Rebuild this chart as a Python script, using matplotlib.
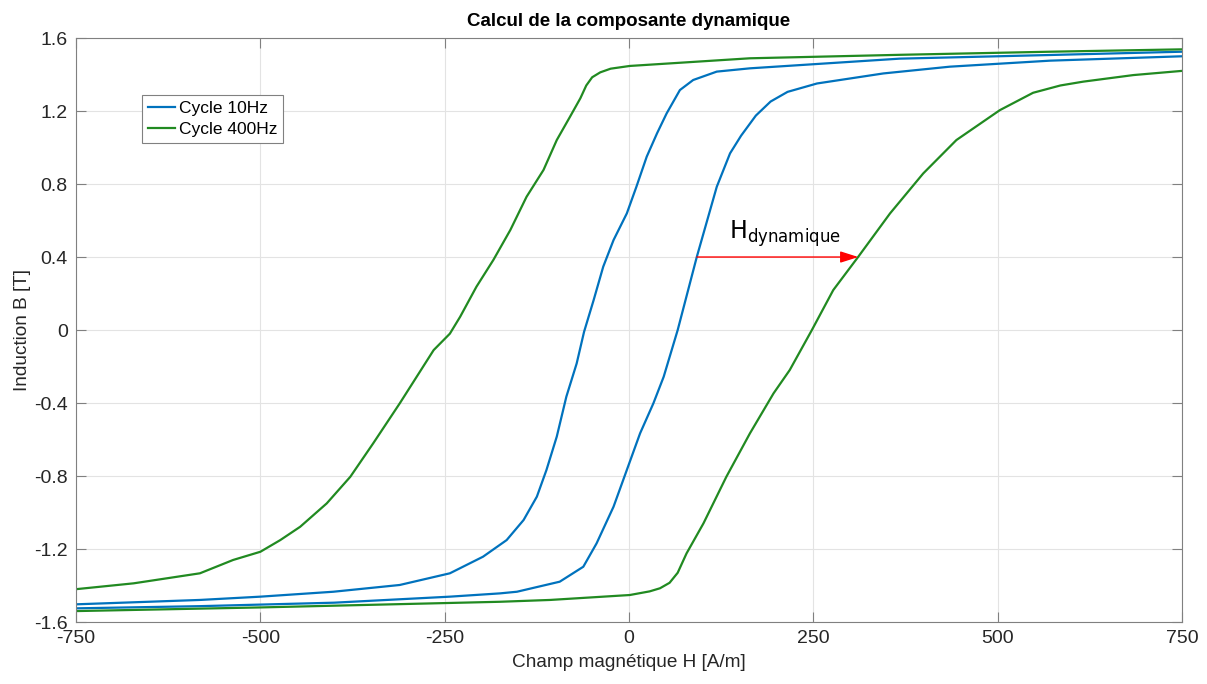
import matplotlib
matplotlib.use("Agg")
import matplotlib.pyplot as plt

plt.rcParams['font.family'] = ['Liberation Sans', 'DejaVu Sans']

# Cycle 10Hz, descending branch (right -> left)
h10_desc = [750, 571, 367, 164, 119, 87, 69, 51, 38, 24, 10, -3, -21, -35, -48, -61,
            -71, -85, -98, -112, -125, -143, -166, -198, -243, -311, -401, -500, -582, -750]
b10_desc = [1.525, 1.507, 1.487, 1.434, 1.416, 1.370, 1.315, 1.187, 1.078, 0.950, 0.785,
            0.639, 0.493, 0.347, 0.164, -0.01, -0.183, -0.365, -0.584, -0.767, -0.913,
            -1.041, -1.151, -1.242, -1.333, -1.397, -1.434, -1.461, -1.479, -1.503]

# Cycle 10Hz, ascending branch (left -> right)
h10_asc = [-750, -582, -400, -243, -175, -152, -94, -62, -44, -21, -3, 15, 33, 47, 66,
           92, 119, 137, 152, 172, 192, 215, 255, 345, 435, 571, 750]
b10_asc = [-1.525, -1.513, -1.494, -1.461, -1.443, -1.434, -1.379, -1.297, -1.169,
           -0.968, -0.767, -0.566, -0.402, -0.256, 0.0, 0.402, 0.785, 0.968, 1.065,
           1.175, 1.252, 1.305, 1.351, 1.406, 1.443, 1.476, 1.500]

# Cycle 400Hz, descending branch
h400_desc = [750, 571, 367, 164, 1, -25, -39, -50, -58, -66, -80, -98, -116, -139,
             -161, -184, -207, -229, -243, -265, -311, -347, -378, -410, -446, -473,
             -500, -537, -582, -672, -750]
b400_desc = [1.538, 1.525, 1.508, 1.489, 1.447, 1.432, 1.412, 1.385, 1.340, 1.270,
             1.169, 1.041, 0.877, 0.730, 0.548, 0.384, 0.237, 0.073, -0.02, -0.110,
             -0.402, -0.621, -0.804, -0.950, -1.078, -1.151, -1.215, -1.260, -1.333,
             -1.388, -1.420]

# Cycle 400Hz, ascending branch
h400_asc = [-750, -500, -175, -107, 1, 28, 42, 55, 66, 78, 101, 132, 164, 196, 218,
            248, 277, 311, 354, 399, 444, 503, 548, 585, 616, 684, 750]
b400_asc = [-1.540, -1.520, -1.489, -1.479, -1.452, -1.432, -1.415, -1.385, -1.330,
            -1.224, -1.059, -0.804, -0.566, -0.347, -0.219, 0.0, 0.219, 0.402, 0.639,
            0.858, 1.041, 1.205, 1.300, 1.340, 1.361, 1.397, 1.420]

# H dynamique arrow (between both ascending branches at B = 0.4)
arrow_b = 0.4
arrow_h_start = 92
arrow_h_end = 311

xticks = [-750, -500, -250, 0, 250, 500, 750]
yticks = [-1.6, -1.2, -0.8, -0.4, 0, 0.4, 0.8, 1.2, 1.6]

blue = '#0072BD'
green = '#218a21'
txt = '#262626'

fig = plt.figure(figsize=(12.07, 6.84), dpi=100)
ax = fig.add_axes([0.063, 0.0906, 0.9163, 0.8538])

ax.plot(h10_desc, b10_desc, color=blue, lw=1.6, label='Cycle 10Hz')
ax.plot(h10_asc, b10_asc, color=blue, lw=1.6)
ax.plot(h400_desc, b400_desc, color=green, lw=1.6, label='Cycle 400Hz')
ax.plot(h400_asc, b400_asc, color=green, lw=1.6)

ax.annotate('', xy=(arrow_h_end, arrow_b), xytext=(arrow_h_start, arrow_b),
            arrowprops=dict(arrowstyle='-|>,head_length=1.1,head_width=0.35',
                            color='red', lw=1.0, shrinkA=0, shrinkB=0))
ax.text(135, 0.5, r'$\mathrm{H}_{\mathrm{dynamique}}$', fontsize=17,
        family='DejaVu Sans', color='black', ha='left', va='baseline')

ax.set_xlim(-750, 750)
ax.set_ylim(-1.6, 1.6)
ax.set_xticks(xticks)
ax.set_yticks(yticks)
ax.set_xticklabels([str(v) for v in xticks])
ax.set_yticklabels(['%g' % v for v in yticks])
ax.grid(True, color='#e3e3e3', lw=0.8)
ax.set_axisbelow(True)
ax.tick_params(direction='in', length=7, width=0.8, color='#808080',
               labelsize=14, labelcolor=txt, top=True, right=True, pad=6)
for s in ax.spines.values():
    s.set_color('#808080')
    s.set_linewidth(0.8)

ax.set_xlabel('Champ magnétique H [A/m]', fontsize=13.7, color=txt, labelpad=5)
ax.set_ylabel('Induction B [T]', fontsize=13.7, color=txt, labelpad=2)
ax.set_title('Calcul de la composante dynamique', fontsize=13.5, fontweight='bold',
             color='black', pad=9)

leg = ax.legend(loc='upper left', bbox_to_anchor=(0.0597, 0.902), borderaxespad=0,
                fontsize=12.5, fancybox=False, framealpha=1, edgecolor='#808080',
                handlelength=1.55, handletextpad=0.2, borderpad=0.35, labelspacing=0.3)
leg.get_frame().set_linewidth(0.8)

fig.savefig('out.png', dpi=100)
